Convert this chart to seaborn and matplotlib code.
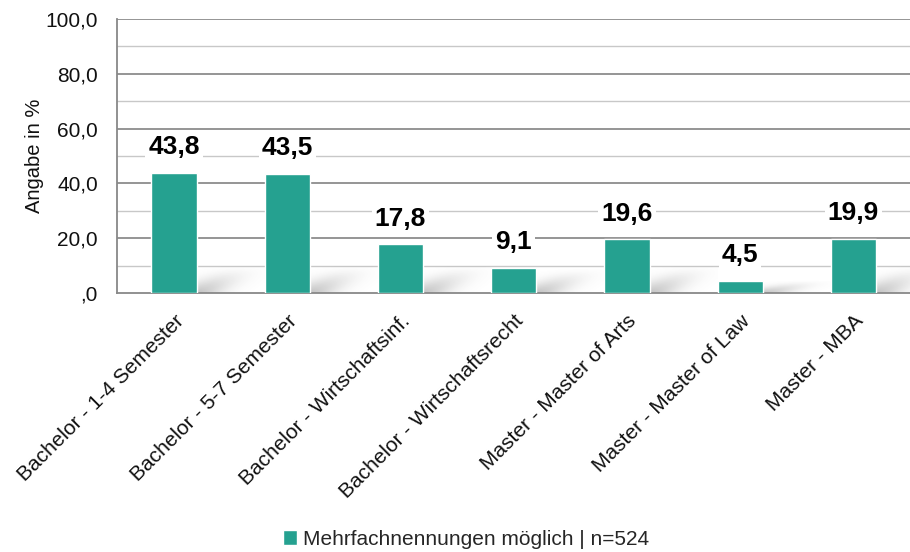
import numpy as np
import pandas as pd
import matplotlib
matplotlib.use("Agg")
import matplotlib.pyplot as plt
import seaborn as sns

# Daten
kategorien = ["Bachelor - 1-4 Semester", "Bachelor - 5-7 Semester",
              "Bachelor - Wirtschaftsinf.", "Bachelor - Wirtschaftsrecht",
              "Master - Master of Arts", "Master - Master of Law", "Master - MBA"]
werte = [43.8, 43.5, 17.8, 9.1, 19.6, 4.5, 19.9]
y_ticks = [0, 20, 40, 60, 80, 100]
y_ticklabels = [",0", "20,0", "40,0", "60,0", "80,0", "100,0"]
legende = "Mehrfachnennungen möglich | n=524"

farbe = "#25A190"

sns.set_theme(style="white")
plt.rcParams["font.family"] = ["Liberation Sans", "DejaVu Sans"]

df = pd.DataFrame({"Kategorie": kategorien, "Wert": werte})

fig = plt.figure(figsize=(9.1, 5.52), dpi=100)
ax = fig.add_axes([0.129, 0.469, 0.871, 0.497])

sns.barplot(data=df, x="Kategorie", y="Wert", color=farbe, width=0.4,
            saturation=1, ax=ax, zorder=3, label=legende)

# Gitterlinien
for v in range(10, 101, 10):
    ax.axhline(v, color="#8c8c8c" if v % 20 == 0 else "#c8c8c8",
               lw=1.3 if v % 20 == 0 else 1.0, zorder=1)

# weicher Schatten hinter den Balken (nur Deko)
uu, vv = np.meshgrid(np.linspace(0, 1, 80), np.linspace(0, 1, 40))
band = np.exp(-((uu - 0.35 - 0.45 * vv) / 0.24) ** 2)
alpha = 0.42 * band * np.clip(1 - vv, 0, 1) ** 1.3
schatten = np.zeros((40, 80, 4))
schatten[..., :3] = 0.45
schatten[..., 3] = alpha
for i, v in enumerate(werte):
    h = min(v, 10)
    ax.imshow(schatten, extent=(i - 0.15, i + 0.8, 0, h), origin="lower",
              aspect="auto", zorder=2, interpolation="bilinear")

ax.set_ylim(0, 100)
ax.set_xlim(-0.5, len(kategorien) - 0.5)
ax.set_yticks(y_ticks)
ax.set_yticklabels(y_ticklabels, fontsize=15, color="#111111")
ax.set_ylabel("Angabe in %", fontsize=14.5, color="#111111", labelpad=1)
ax.set_xlabel("")
ax.set_xticks(range(len(kategorien)))
ax.set_xticklabels(kategorien, rotation=45, ha="right", rotation_mode="anchor",
                   fontsize=15, color="#111111")
ax.tick_params(axis="x", pad=13, length=0)
ax.tick_params(axis="y", pad=14, length=0)

for s in ["top", "right"]:
    ax.spines[s].set_visible(False)
for s in ["left", "bottom"]:
    ax.spines[s].set_color("#888888")
    ax.spines[s].set_linewidth(1.3)

# Wertbeschriftungen
for i, v in enumerate(werte):
    ax.text(i, v + 5, f"{v:.1f}".replace(".", ","), ha="center", va="bottom",
            fontsize=19, fontweight="bold", color="black", zorder=4,
            bbox=dict(facecolor="white", edgecolor="none", pad=2))

ax.legend(loc="lower center", bbox_to_anchor=(0.44, -1.0), frameon=False,
          fontsize=15, handlelength=0.7, handleheight=0.7, handletextpad=0.3)

fig.savefig("out.png", dpi=100)
